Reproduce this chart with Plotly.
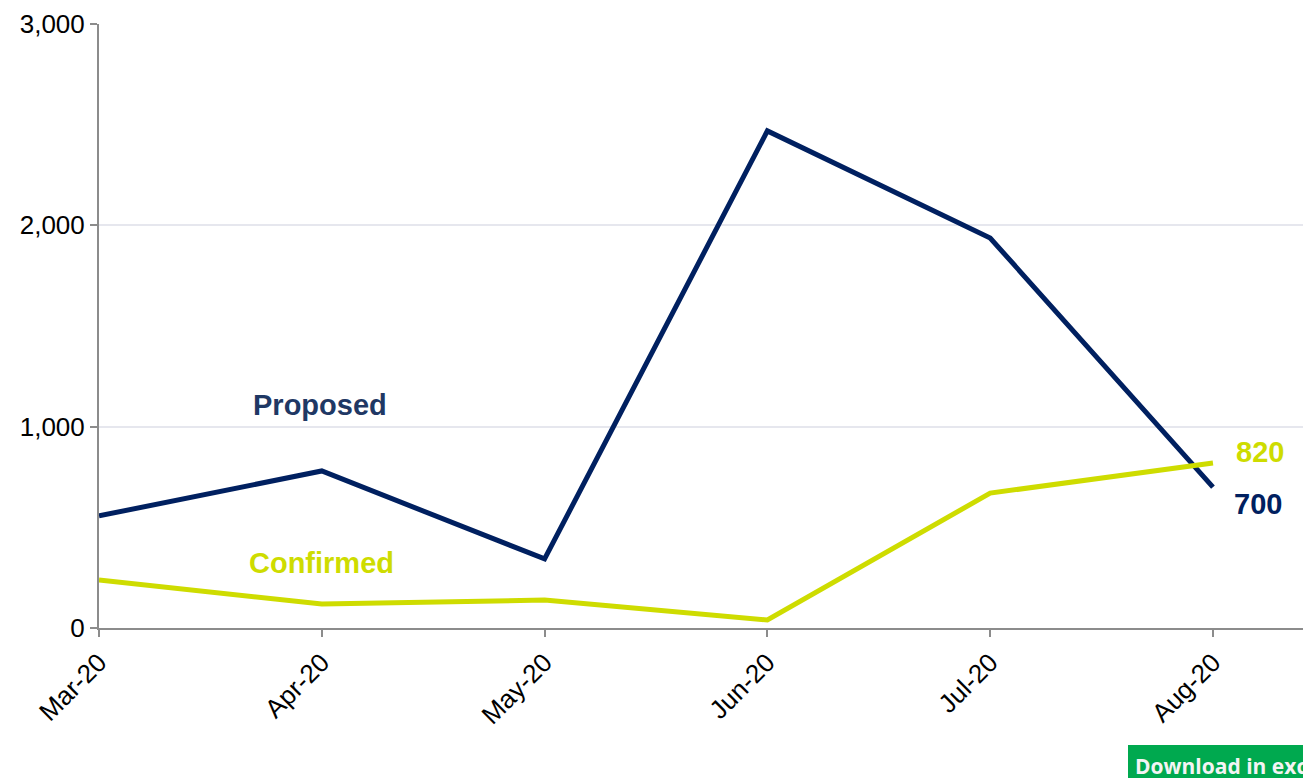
import plotly.graph_objects as go

months = ["Mar-20", "Apr-20", "May-20", "Jun-20", "Jul-20", "Aug-20"]
proposed = [557, 780, 343, 2469, 1937, 700]
confirmed = [238, 119, 139, 40, 670, 820]

navy = "#002060"
lime = "#CEDC00"
xs = list(range(len(months)))

fig = go.Figure()
fig.add_trace(go.Scatter(x=xs, y=proposed, mode="lines", line=dict(color=navy, width=5),
                         name="Proposed", hoverinfo="y"))
fig.add_trace(go.Scatter(x=xs, y=confirmed, mode="lines", line=dict(color=lime, width=5),
                         name="Confirmed", hoverinfo="y"))

font_family = "Liberation Sans, Arial, sans-serif"
fig.add_annotation(x=0.99, y=1108, text="<b>Proposed</b>", showarrow=False,
                   font=dict(family=font_family, size=29, color="#1F3864"))
fig.add_annotation(x=1.0, y=323, text="<b>Confirmed</b>", showarrow=False,
                   font=dict(family=font_family, size=29, color=lime))
fig.add_annotation(x=5.21, y=874, text="<b>%d</b>" % confirmed[-1], showarrow=False,
                   font=dict(family=font_family, size=29, color=lime))
fig.add_annotation(x=5.2, y=616, text="<b>%d</b>" % proposed[-1], showarrow=False,
                   font=dict(family=font_family, size=29, color=navy))

fig.add_annotation(xref="paper", yref="paper", x=0.849, y=-0.194, xanchor="left", yanchor="top",
                   text="<b>Download in excel</b>", showarrow=False,
                   bgcolor="#00A94F", bordercolor="#00A94F", borderpad=6,
                   font=dict(family="Open Sans, sans-serif", size=21, color="#f4f4f4"))

fig.update_layout(
    width=1303, height=770,
    margin=dict(l=91, r=0, t=16, b=150),
    paper_bgcolor="white", plot_bgcolor="white",
    showlegend=False,
    font=dict(family=font_family, size=26, color="black"),
    xaxis=dict(range=[0, 5.44], tickvals=xs, ticktext=months, tickangle=-45,
               showgrid=False, showline=True, linecolor="#8c8c8c", linewidth=2,
               ticks="outside", ticklen=7, tickcolor="#8c8c8c", tickwidth=2,
               zeroline=False, tickfont=dict(size=26, color="black")),
    yaxis=dict(range=[0, 3000], tickvals=[0, 1000, 2000, 3000], tickformat=",",
               showgrid=True, gridcolor="#e6e7ee", gridwidth=1.5,
               showline=True, linecolor="#8c8c8c", linewidth=2,
               ticks="outside", ticklen=7, tickcolor="#8c8c8c", tickwidth=2,
               zeroline=False, tickfont=dict(size=26, color="black")),
)

fig.write_html("out.html")
